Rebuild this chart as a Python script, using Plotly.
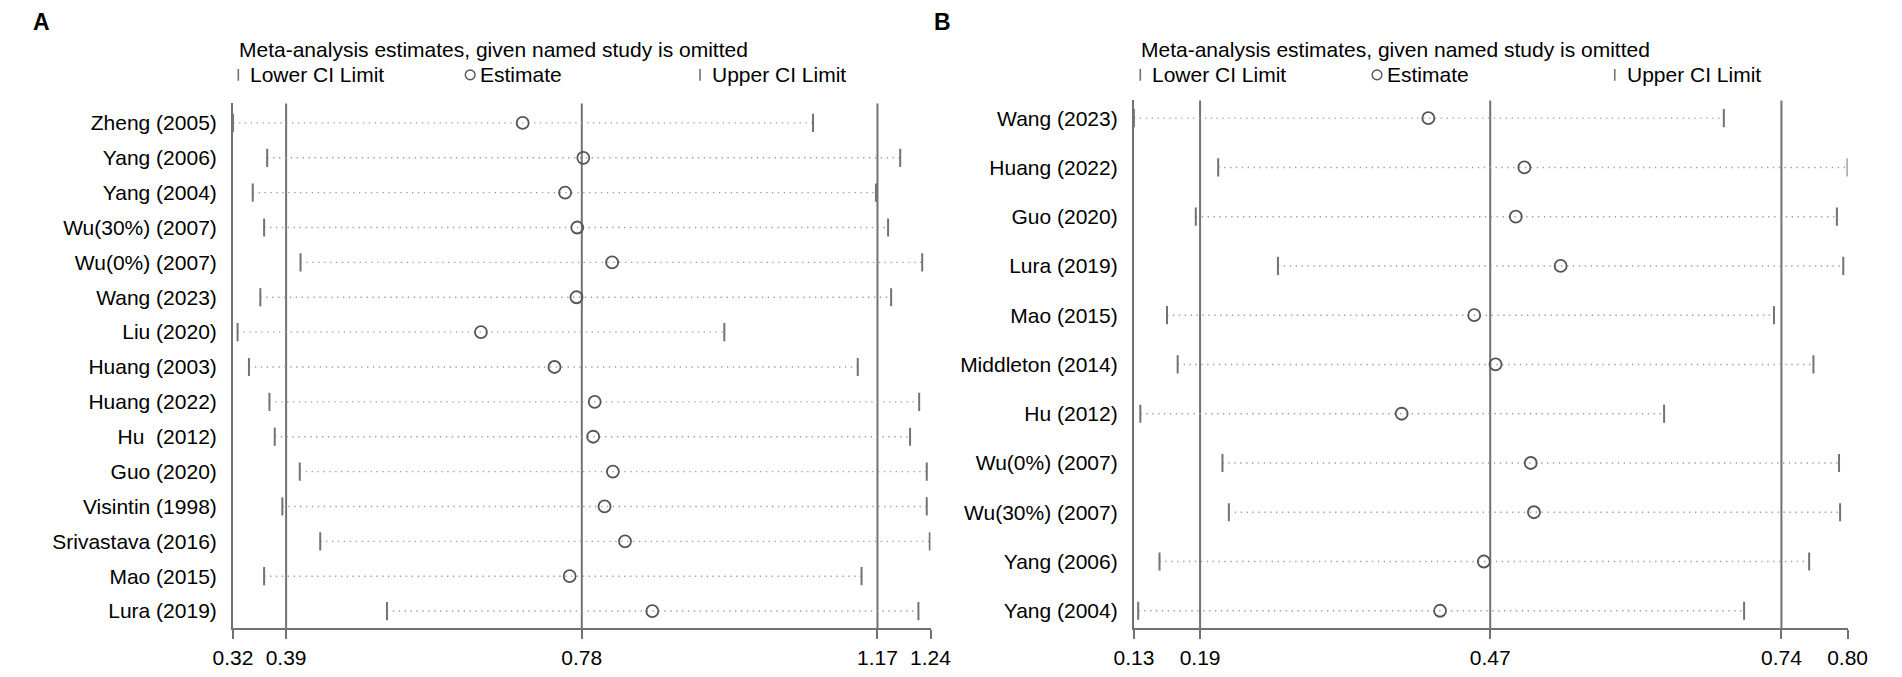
import plotly.graph_objects as go

# ---------------- data ----------------
# Panel A
studies_a = ["Zheng (2005)", "Yang (2006)", "Yang (2004)", "Wu(30%) (2007)", "Wu(0%) (2007)",
             "Wang (2023)", "Liu (2020)", "Huang (2003)", "Huang (2022)", "Hu\u00a0 (2012)",
             "Guo (2020)", "Visintin (1998)", "Srivastava (2016)", "Mao (2015)", "Lura (2019)"]
lower_a = [0.320, 0.365, 0.346, 0.361, 0.409, 0.356, 0.326, 0.341, 0.368, 0.375,
           0.408, 0.385, 0.435, 0.361, 0.523]
estimate_a = [0.702, 0.782, 0.758, 0.774, 0.820, 0.773, 0.647, 0.744, 0.797, 0.795,
              0.821, 0.810, 0.837, 0.764, 0.873]
upper_a = [1.085, 1.200, 1.168, 1.184, 1.229, 1.188, 0.968, 1.144, 1.225, 1.213,
           1.235, 1.235, 1.239, 1.149, 1.224]
ticks_a = [0.32, 0.39, 0.78, 1.17, 1.24]
ticklabels_a = ["0.32", "0.39", "0.78", "1.17", "1.24"]
reflines_a = [0.39, 0.78, 1.17]

# Panel B
studies_b = ["Wang (2023)", "Huang (2022)", "Guo (2020)", "Lura (2019)", "Mao (2015)",
             "Middleton (2014)", "Hu (2012)", "Wu(0%) (2007)", "Wu(30%) (2007)",
             "Yang (2006)", "Yang (2004)"]
lower_b = [0.131, 0.210, 0.189, 0.266, 0.162, 0.172, 0.137, 0.214, 0.220, 0.155, 0.135]
estimate_b = [0.407, 0.497, 0.489, 0.531, 0.450, 0.470, 0.382, 0.503, 0.506, 0.459, 0.418]
upper_b = [0.684, 0.800, 0.790, 0.796, 0.731, 0.768, 0.628, 0.792, 0.793, 0.764, 0.703]
ticks_b = [0.131, 0.193, 0.465, 0.738, 0.800]
ticklabels_b = ["0.13", "0.19", "0.47", "0.74", "0.80"]
reflines_b = [0.193, 0.465, 0.738]

# ---------------- layout helpers ----------------
# the page body keeps its default 8px margin, so the figure is sized to fit inside it
OFF = 8
W, H = 1902 - 2 * OFF, 677 - 2 * OFF
FONT = "Liberation Sans, Arial, Helvetica, sans-serif"
FS = 21
LINE = "#727272"
DOT = "#a0a0a0"
CIRC = "#555555"


def px(x):
    return (x - OFF) / W


def py(y):
    return 1 - (y - OFF) / H


fig = go.Figure()


def add_panel(names, lo, est, up, xa, ya):
    n = len(names)
    idx = list(range(n))
    xs, ys = [], []
    for i in idx:
        xs += [lo[i], up[i], None]
        ys += [i, i, None]
    fig.add_trace(go.Scatter(x=xs, y=ys, mode="lines", xaxis=xa, yaxis=ya,
                             line=dict(color=DOT, width=1.4, dash="1.4px,4.5px"),
                             hoverinfo="skip", showlegend=False))
    for arr in (lo, up):
        fig.add_trace(go.Scatter(x=arr, y=idx, mode="markers", xaxis=xa, yaxis=ya,
                                 marker=dict(symbol="line-ns", size=13,
                                             line=dict(color=LINE, width=2)),
                                 showlegend=False))
    fig.add_trace(go.Scatter(x=est, y=idx, mode="markers", xaxis=xa, yaxis=ya,
                             marker=dict(symbol="circle-open", size=12, color=CIRC,
                                         line=dict(color=CIRC, width=1.8)),
                             showlegend=False))


add_panel(studies_a, lower_a, estimate_a, upper_a, "x", "y")
add_panel(studies_b, lower_b, estimate_b, upper_b, "x2", "y2")

axis_common = dict(showgrid=False, zeroline=False, showline=True, linecolor=LINE,
                   linewidth=2, tickfont=dict(family=FONT, size=FS, color="black"))

fig.update_layout(
    width=W, height=H, margin=dict(l=0, r=0, t=0, b=0),
    paper_bgcolor="white", plot_bgcolor="white",
    font=dict(family=FONT, size=FS, color="black"),
    xaxis=dict(domain=[px(217.6), px(930.6)], range=[ticks_a[0], ticks_a[-1]],
               tickvals=ticks_a, ticktext=ticklabels_a, ticks="outside", ticklen=9,
               tickwidth=2, tickcolor=LINE, anchor="y", **axis_common),
    yaxis=dict(domain=[py(639), py(105)], range=[len(studies_a) - 0.5, -0.56],
               tickvals=list(range(len(studies_a))), ticktext=studies_a, ticks="",
               ticklabelstandoff=10, anchor="x", **axis_common),
    xaxis2=dict(domain=[px(1138.5), px(1868)], range=[ticks_b[0], ticks_b[-1]],
                tickvals=ticks_b, ticktext=ticklabels_b, ticks="outside", ticklen=9,
                tickwidth=2, tickcolor=LINE, anchor="y2", **axis_common),
    yaxis2=dict(domain=[py(639), py(102)], range=[len(studies_b) - 1 + 0.36, -0.36],
                tickvals=list(range(len(studies_b))), ticktext=studies_b, ticks="",
                ticklabelstandoff=10, anchor="x2", **axis_common),
)

shapes = []
for xv in reflines_a:
    shapes.append(dict(type="line", xref="x", yref="y domain", x0=xv, x1=xv, y0=0, y1=1,
                       line=dict(color=LINE, width=2), layer="below"))
for xv in reflines_b:
    shapes.append(dict(type="line", xref="x2", yref="y2 domain", x0=xv, x1=xv, y0=0, y1=1,
                       line=dict(color=LINE, width=2), layer="below"))

annotations = []


def header(x_tick, x_circ, x_up):
    annotations.append(dict(text="Meta-analysis estimates, given named study is omitted",
                            x=px(x_tick - 1), y=py(50), xref="paper", yref="paper",
                            xanchor="left", yanchor="middle", showarrow=False,
                            font=dict(family=FONT, size=FS)))
    for xt, label in [(x_tick, "Lower CI Limit"), (x_up, "Upper CI Limit")]:
        shapes.append(dict(type="line", xref="paper", yref="paper", x0=px(xt), x1=px(xt),
                           y0=py(70), y1=py(82), line=dict(color=LINE, width=1.6)))
        annotations.append(dict(text=label, x=px(xt + 10), y=py(76), xref="paper",
                                yref="paper", xanchor="left", yanchor="middle",
                                showarrow=False, font=dict(family=FONT, size=FS)))
    shapes.append(dict(type="circle", xref="paper", yref="paper",
                       x0=px(x_circ - 5), x1=px(x_circ + 5), y0=py(81), y1=py(71),
                       line=dict(color=CIRC, width=1.4)))
    annotations.append(dict(text="Estimate", x=px(x_circ + 8), y=py(76), xref="paper",
                            yref="paper", xanchor="left", yanchor="middle",
                            showarrow=False, font=dict(family=FONT, size=FS)))


header(223, 460, 695)
header(1145, 1387, 1630)

for letter, xl in [("A", 11), ("B", 932)]:
    annotations.append(dict(text="<b>%s</b>" % letter, x=px(xl), y=py(22), xref="paper",
                            yref="paper", xanchor="left", yanchor="middle",
                            showarrow=False, font=dict(family=FONT, size=23)))

fig.update_layout(shapes=shapes, annotations=annotations)

fig.write_html("out.html")
